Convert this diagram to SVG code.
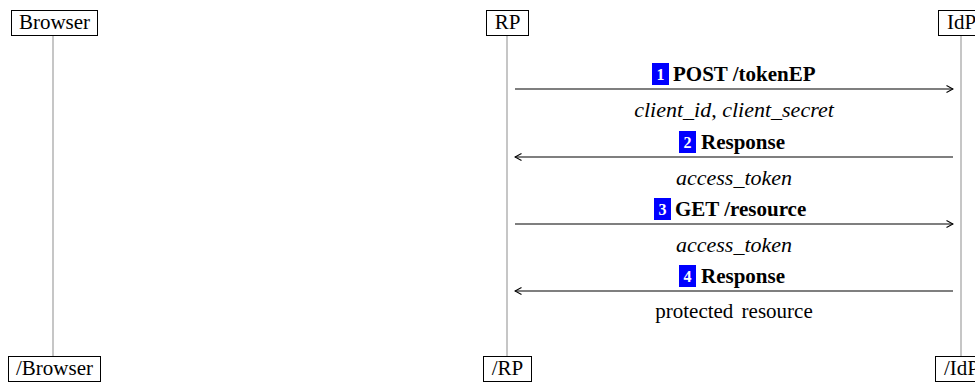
<svg xmlns="http://www.w3.org/2000/svg" width="975" height="383" viewBox="0 0 975 383">
<style>
.box{fill:#fff;stroke:#000;stroke-width:1}
.life{stroke:#b3b3b3;stroke-width:1.5}
.t{font-family:"Liberation Serif","Times New Roman",serif;font-size:21px;fill:#000}
.lbl{font-family:"Liberation Serif","Times New Roman",serif;font-size:21px;font-weight:bold;fill:#000}
.it{font-family:"Liberation Serif","Times New Roman",serif;font-size:22px;font-style:italic;fill:#000}
.pl{font-family:"Liberation Serif","Times New Roman",serif;font-size:21px;fill:#000}
.num{font-family:"Liberation Serif","Times New Roman",serif;font-size:16px;font-weight:bold;fill:#fff}
.nb{fill:#0000ff}
.msg{stroke:#000;stroke-width:1.2;fill:none}
</style>
<defs>
<marker id="ah" viewBox="0 0 10 10" refX="9" refY="5" markerWidth="10" markerHeight="10" markerUnits="userSpaceOnUse" orient="auto">
<path d="M2.5,1.5 L9,5 L2.5,8.5" fill="none" stroke="#000" stroke-width="1.1"/>
</marker>
</defs>
<g id="lifelines">
<line class="life" x1="53" y1="35" x2="53" y2="356"/>
<line class="life" x1="507" y1="35" x2="507" y2="356"/>
<line class="life" x1="961" y1="35" x2="961" y2="356"/>
</g>
<g id="browser">
<rect class="box" x="11.5" y="10.5" width="86" height="25"/>
<text class="t" x="54.5" y="29" text-anchor="middle">Browser</text>
</g>
<g id="rp">
<rect class="box" x="486.5" y="10.5" width="42" height="25"/>
<text class="t" x="507.5" y="29" text-anchor="middle">RP</text>
</g>
<g id="idp">
<rect class="box" x="938.5" y="10.5" width="46" height="25"/>
<text class="t" x="961.5" y="29" text-anchor="middle">IdP</text>
</g>
<g id="browser-end">
<rect class="box" x="8.5" y="356.5" width="92" height="25"/>
<text class="t" x="54.5" y="375" text-anchor="middle">/Browser</text>
</g>
<g id="rp-end">
<rect class="box" x="483.5" y="356.5" width="48" height="25"/>
<text class="t" x="507.5" y="375" text-anchor="middle">/RP</text>
</g>
<g id="idp-end">
<rect class="box" x="935.5" y="356.5" width="52" height="25"/>
<text class="t" x="961.5" y="375" text-anchor="middle">/IdP</text>
</g>
<g id="connectors">
<line class="msg" x1="515" y1="89" x2="953" y2="89" marker-end="url(#ah)"/>
<line class="msg" x1="953" y1="157" x2="515" y2="157" marker-end="url(#ah)"/>
<line class="msg" x1="515" y1="224" x2="953" y2="224" marker-end="url(#ah)"/>
<line class="msg" x1="953" y1="291" x2="515" y2="291" marker-end="url(#ah)"/>
</g>
<g id="label1">
<rect class="nb" x="652" y="63" width="17" height="22"/>
<text class="num" x="660.5" y="80" text-anchor="middle">1</text>
<text class="lbl" x="673" y="81">POST /tokenEP</text>
<text class="it" x="734" y="117" text-anchor="middle">client_id<tspan font-style="normal">,</tspan> client_secret</text>
</g>
<g id="label2">
<rect class="nb" x="679" y="131" width="17" height="22"/>
<text class="num" x="687.5" y="148" text-anchor="middle">2</text>
<text class="lbl" x="701" y="149">Response</text>
<text class="it" x="734" y="185" text-anchor="middle">access_token</text>
</g>
<g id="label3">
<rect class="nb" x="654" y="198" width="17" height="22"/>
<text class="num" x="662.5" y="215" text-anchor="middle">3</text>
<text class="lbl" x="675" y="216">GET /resource</text>
<text class="it" x="734" y="252" text-anchor="middle">access_token</text>
</g>
<g id="label4">
<rect class="nb" x="679" y="265" width="17" height="22"/>
<text class="num" x="687.5" y="282" text-anchor="middle">4</text>
<text class="lbl" x="701" y="283">Response</text>
<text class="pl" x="734" y="318" text-anchor="middle" word-spacing="3">protected resource</text>
</g>
</svg>
